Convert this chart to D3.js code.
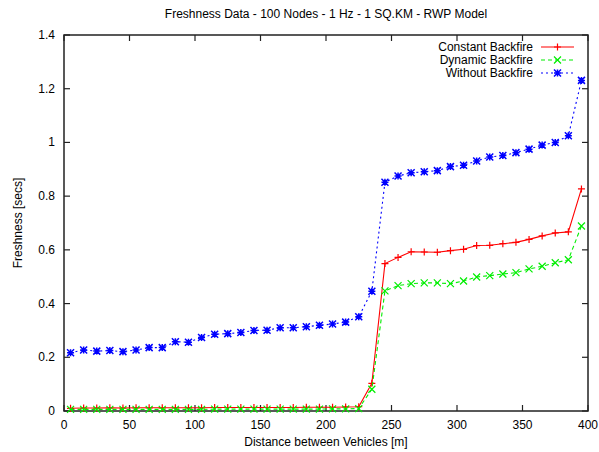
<!DOCTYPE html>
<html>
<head>
<meta charset="utf-8">
<script src="https://cdnjs.cloudflare.com/ajax/libs/d3/7.8.5/d3.min.js"></script>
<style>
body { margin: 0; background: #fff; }
svg { display: block; }
text { font-family: "Liberation Sans", Arial, sans-serif; }
</style>
</head>
<body>
<div id="chart"></div>
<script>
const distances = [5,15,25,35,45,55,65,75,85,95,105,115,125,135,145,155,165,175,185,195,205,215,225,235,245,255,265,275,285,295,305,315,325,335,345,355,365,375,385,395];
const constantBackfire = [0.010,0.011,0.011,0.012,0.011,0.012,0.012,0.012,0.012,0.012,0.012,0.013,0.013,0.013,0.013,0.013,0.013,0.013,0.014,0.014,0.014,0.015,0.016,0.103,0.549,0.572,0.593,0.592,0.591,0.597,0.602,0.616,0.617,0.623,0.628,0.639,0.652,0.663,0.667,0.827];
const dynamicBackfire = [0.006,0.006,0.006,0.006,0.006,0.006,0.006,0.006,0.006,0.006,0.006,0.007,0.007,0.007,0.007,0.007,0.007,0.007,0.007,0.007,0.008,0.008,0.009,0.081,0.447,0.467,0.474,0.477,0.477,0.474,0.484,0.499,0.504,0.510,0.515,0.529,0.539,0.552,0.563,0.689];
const withoutBackfire = [0.217,0.227,0.223,0.225,0.221,0.227,0.236,0.236,0.258,0.256,0.274,0.286,0.288,0.292,0.300,0.301,0.310,0.310,0.314,0.319,0.324,0.331,0.351,0.446,0.852,0.875,0.887,0.891,0.895,0.910,0.915,0.931,0.946,0.951,0.962,0.975,0.990,1.000,1.025,1.231];
const xTicks = [0,50,100,150,200,250,300,350,400];
const yTicks = [0,0.2,0.4,0.6,0.8,1,1.2,1.4];
const seriesNames = ["Constant Backfire","Dynamic Backfire","Without Backfire"];

const W = 599, H = 452;
const m = {left: 64, right: 11, top: 35, bottom: 41};
const svg = d3.select("#chart").append("svg").attr("width", W).attr("height", H);

const x = d3.scaleLinear().domain([0,400]).range([m.left, W - m.right]);
const y = d3.scaleLinear().domain([0,1.4]).range([H - m.bottom, m.top]);

const fmt = d => (d === 0 ? "0" : d3.format("~g")(d));
const tickLen = 6;

// frame
svg.append("rect").attr("x", x(0)).attr("y", y(1.4)).attr("width", x(400)-x(0)).attr("height", y(0)-y(1.4))
  .attr("fill","none").attr("stroke","#222").attr("stroke-width",1.5);

// ticks (inward, mirrored)
const tg = svg.append("g").attr("stroke","#222").attr("stroke-width",1.2);
xTicks.forEach(t => {
  tg.append("line").attr("x1",x(t)).attr("x2",x(t)).attr("y1",y(0)).attr("y2",y(0)-tickLen);
  tg.append("line").attr("x1",x(t)).attr("x2",x(t)).attr("y1",y(1.4)).attr("y2",y(1.4)+tickLen);
});
yTicks.forEach(t => {
  tg.append("line").attr("x1",x(0)).attr("x2",x(0)+tickLen).attr("y1",y(t)).attr("y2",y(t));
  tg.append("line").attr("x1",x(400)).attr("x2",x(400)-tickLen).attr("y1",y(t)).attr("y2",y(t));
});

// tick labels
svg.append("g").selectAll("text").data(xTicks).join("text")
  .attr("x", d => x(d)).attr("y", y(0) + 18).attr("text-anchor","middle")
  .attr("font-size",12).attr("fill","#000").text(fmt);
svg.append("g").selectAll("text").data(yTicks).join("text")
  .attr("x", x(0) - 9).attr("y", d => y(d) + 4).attr("text-anchor","end")
  .attr("font-size",12).attr("fill","#000").text(fmt);

// titles
svg.append("text").attr("x", (x(0)+x(400))/2).attr("y", 18).attr("text-anchor","middle")
  .attr("font-size",12).text("Freshness Data - 100 Nodes - 1 Hz - 1 SQ.KM - RWP Model");
svg.append("text").attr("x", (x(0)+x(400))/2).attr("y", 446).attr("text-anchor","middle")
  .attr("font-size",12).text("Distance between Vehicles [m]");
svg.append("text").attr("transform", `translate(22,${(y(0)+y(1.4))/2}) rotate(-90)`).attr("text-anchor","middle")
  .attr("font-size",12).text("Freshness [secs]");

// markers
function marker(g, type, cx, cy, color) {
  const s = 3.5;
  const p = d3.path();
  if (type === "plus" || type === "star") {
    p.moveTo(cx - s, cy); p.lineTo(cx + s, cy);
    p.moveTo(cx, cy - s); p.lineTo(cx, cy + s);
  }
  if (type === "cross" || type === "star") {
    p.moveTo(cx - s, cy - s); p.lineTo(cx + s, cy + s);
    p.moveTo(cx - s, cy + s); p.lineTo(cx + s, cy - s);
  }
  g.append("path").attr("d", p.toString()).attr("stroke", color).attr("stroke-width", type === "star" ? 1.5 : 1.2).attr("fill","none");
}

const series = [
  {name: seriesNames[0], vals: constantBackfire, color: "#ff0000", dash: null, type: "plus"},
  {name: seriesNames[1], vals: dynamicBackfire, color: "#00ee00", dash: "4,3", type: "cross"},
  {name: seriesNames[2], vals: withoutBackfire, color: "#0000ff", dash: "2,3", type: "star"}
];

const line = d3.line().x(d => x(d[0])).y(d => y(d[1]));
series.forEach(s => {
  const data = distances.map((d,i) => [d, s.vals[i]]);
  svg.append("path").datum(data).attr("d", line).attr("fill","none")
    .attr("stroke", s.color).attr("stroke-width", 1.1)
    .attr("stroke-dasharray", s.dash);
  const g = svg.append("g");
  data.forEach(d => marker(g, s.type, x(d[0]), y(d[1]), s.color));
});

// legend
series.forEach((s, i) => {
  const ly = 47 + i * 13;
  svg.append("text").attr("x", 533).attr("y", ly + 4).attr("text-anchor","end")
    .attr("font-size",12).text(s.name);
  svg.append("line").attr("x1", 541).attr("x2", 574).attr("y1", ly).attr("y2", ly)
    .attr("stroke", s.color).attr("stroke-width",1.1).attr("stroke-dasharray", s.dash);
  marker(svg, s.type, 557.5, ly, s.color);
});
</script>
</body>
</html>
